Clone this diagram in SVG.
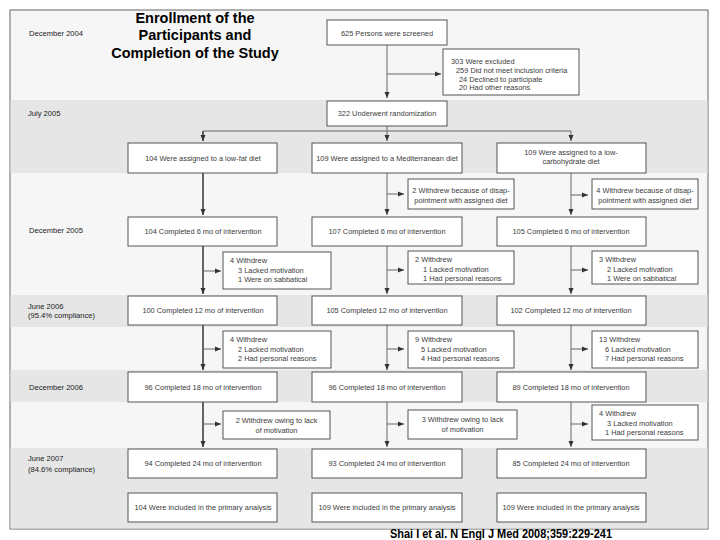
<svg xmlns="http://www.w3.org/2000/svg" width="720" height="540" viewBox="0 0 720 540">
<defs>
<marker id="ah" viewBox="0 0 6 6" refX="6" refY="3" markerWidth="6" markerHeight="6" markerUnits="userSpaceOnUse" orient="auto">
<path d="M0,0.5 L6,3 L0,5.5 Z" fill="#333"/>
</marker>
<style>
.bx{fill:#ffffff;stroke:#555;stroke-width:1}
.t{font-family:"Liberation Sans",Arial,sans-serif;font-size:7.4px;fill:#3a3a3a}
.c{text-anchor:middle}
.lb{font-family:"Liberation Sans",Arial,sans-serif;font-size:7.6px;fill:#1a1a1a}
.ln{fill:none;stroke:#666;stroke-width:1}
.ln1{fill:none;stroke:#555;stroke-width:1.8}
.ar{marker-end:url(#ah)}
.title{font-family:"Liberation Sans",Arial,sans-serif;font-size:14.5px;font-weight:bold;fill:#000;text-anchor:middle}
</style>
</defs>
<rect x="0" y="0" width="720" height="540" fill="#ffffff"/>
<g id="background">
<rect x="10" y="10" width="698" height="519" fill="#f6f6f6" stroke="#666" stroke-width="1"/>
<rect x="10.5" y="100" width="697" height="73" fill="#e6e6e6"/>
<rect x="10.5" y="295" width="697" height="32" fill="#e6e6e6"/>
<rect x="10.5" y="370" width="697" height="32" fill="#e6e6e6"/>
<rect x="10.5" y="448" width="697" height="80.5" fill="#e6e6e6"/>
</g>
<g id="title">
<text class="title" x="195" y="23">Enrollment of the</text>
<text class="title" x="195" y="40">Participants and</text>
<text class="title" x="195" y="58">Completion of the Study</text>
</g>
<g id="timeline-labels">
<text class="lb" x="29" y="35.5">December 2004</text>
<text class="lb" x="28" y="116">July 2005</text>
<text class="lb" x="29" y="233">December 2005</text>
<text class="lb" x="28" y="309">June 2006</text>
<text class="lb" x="28" y="318">(95.4% compliance)</text>
<text class="lb" x="29" y="390">December 2006</text>
<text class="lb" x="28" y="461">June 2007</text>
<text class="lb" x="28" y="472">(84.6% compliance)</text>
</g>
<g id="connectors">
<line class="ln ar" x1="387" y1="45" x2="387" y2="98"/>
<line class="ln ar" x1="387" y1="74" x2="441" y2="74"/>
<polyline class="ln" points="387,126 387,131"/>
<line class="ln" x1="203" y1="131" x2="571" y2="131"/>
<line class="ln1 ar" x1="203" y1="131" x2="203" y2="141"/>
<line class="ln ar" x1="387" y1="131" x2="387" y2="141"/>
<line class="ln ar" x1="571" y1="131" x2="571" y2="141"/>
<line class="ln1 ar" x1="203" y1="173" x2="203" y2="215"/>
<line class="ln1 ar" x1="203" y1="246" x2="203" y2="294"/>
<line class="ln1 ar" x1="203" y1="325" x2="203" y2="370"/>
<line class="ln1 ar" x1="203" y1="402" x2="203" y2="447"/>
<line class="ln ar" x1="203" y1="271" x2="221" y2="271"/>
<line class="ln ar" x1="203" y1="349" x2="221" y2="349"/>
<line class="ln ar" x1="203" y1="424" x2="221" y2="424"/>
<line class="ln ar" x1="387" y1="173" x2="387" y2="215"/>
<line class="ln ar" x1="387" y1="246" x2="387" y2="294"/>
<line class="ln ar" x1="387" y1="325" x2="387" y2="370"/>
<line class="ln ar" x1="387" y1="402" x2="387" y2="447"/>
<line class="ln ar" x1="387" y1="194" x2="404" y2="194"/>
<line class="ln ar" x1="387" y1="270" x2="404" y2="270"/>
<line class="ln ar" x1="387" y1="349" x2="404" y2="349"/>
<line class="ln ar" x1="387" y1="424" x2="404" y2="424"/>
<line class="ln ar" x1="571" y1="173" x2="571" y2="215"/>
<line class="ln ar" x1="571" y1="246" x2="571" y2="294"/>
<line class="ln ar" x1="571" y1="325" x2="571" y2="370"/>
<line class="ln ar" x1="571" y1="402" x2="571" y2="447"/>
<line class="ln ar" x1="571" y1="195" x2="588" y2="195"/>
<line class="ln ar" x1="571" y1="270" x2="588" y2="270"/>
<line class="ln ar" x1="571" y1="349" x2="588" y2="349"/>
<line class="ln ar" x1="571" y1="424" x2="588" y2="424"/>
</g>
<g id="screened"><rect class="bx" x="327" y="20" width="120" height="25"/><text class="t c" x="387" y="35.5">625 Persons were screened</text></g>
<g id="excluded"><rect class="bx" x="443" y="49" width="136" height="46"/>
<text class="t" x="451" y="63.5">303 Were excluded</text>
<text class="t" x="456" y="72.5">259 Did not meet inclusion criteria</text>
<text class="t" x="459" y="81.5">24 Declined to participate</text>
<text class="t" x="459" y="90">20 Had other reasons</text></g>
<g id="randomized"><rect class="bx" x="327" y="101" width="120" height="25"/><text class="t c" x="387" y="116">322 Underwent randomization</text></g>

<g id="lowfat-assigned"><rect class="bx" x="128" y="143" width="149" height="30"/><text class="t c" x="203" y="160.5">104 Were assigned to a low-fat diet</text></g>
<g id="med-assigned"><rect class="bx" x="312" y="143" width="150" height="30"/><text class="t c" x="387" y="160.5">109 Were assigned to a Mediterranean diet</text></g>
<g id="lowcarb-assigned"><rect class="bx" x="497" y="143" width="149" height="30"/><text class="t c" x="571" y="155">109 Were assigned to a low-</text><text class="t c" x="571" y="163.5">carbohydrate diet</text></g>

<g id="med-w1"><rect class="bx" x="408" y="179" width="106" height="30"/><text class="t c" x="461" y="192.5">2 Withdrew because of disap-</text><text class="t c" x="461" y="202.5">pointment with assigned diet</text></g>
<g id="lowcarb-w1"><rect class="bx" x="592" y="179" width="106" height="30"/><text class="t c" x="645" y="192.5">4 Withdrew because of disap-</text><text class="t c" x="645" y="202.5">pointment with assigned diet</text></g>

<g id="lowfat-6"><rect class="bx" x="128" y="217" width="149" height="29"/><text class="t c" x="203" y="234">104 Completed 6 mo of intervention</text></g>
<g id="med-6"><rect class="bx" x="312" y="217" width="150" height="29"/><text class="t c" x="387" y="234">107 Completed 6 mo of intervention</text></g>
<g id="lowcarb-6"><rect class="bx" x="497" y="217" width="149" height="29"/><text class="t c" x="571" y="234">105 Completed 6 mo of intervention</text></g>

<g id="lowfat-w2"><rect class="bx" x="223" y="252" width="108" height="37"/><text class="t" x="230" y="262.5">4 Withdrew</text><text class="t" x="238" y="272.5">3 Lacked motivation</text><text class="t" x="238" y="281.5">1 Were on sabbatical</text></g>
<g id="med-w2"><rect class="bx" x="408" y="251" width="106" height="33"/><text class="t" x="415" y="261.5">2 Withdrew</text><text class="t" x="423" y="271.5">1 Lacked motivation</text><text class="t" x="423" y="280.5">1 Had personal reasons</text></g>
<g id="lowcarb-w2"><rect class="bx" x="592" y="251" width="106" height="33"/><text class="t" x="599" y="261.5">3 Withdrew</text><text class="t" x="607" y="271.5">2 Lacked motivation</text><text class="t" x="607" y="280.5">1 Were on sabbatical</text></g>

<g id="lowfat-12"><rect class="bx" x="128" y="296" width="149" height="29"/><text class="t c" x="203" y="313">100 Completed 12 mo of intervention</text></g>
<g id="med-12"><rect class="bx" x="312" y="296" width="150" height="29"/><text class="t c" x="387" y="313">105 Completed 12 mo of intervention</text></g>
<g id="lowcarb-12"><rect class="bx" x="497" y="296" width="149" height="29"/><text class="t c" x="571" y="313">102 Completed 12 mo of intervention</text></g>

<g id="lowfat-w3"><rect class="bx" x="223" y="331" width="108" height="37"/><text class="t" x="230" y="342">4 Withdrew</text><text class="t" x="238" y="351.5">2 Lacked motivation</text><text class="t" x="238" y="360.5">2 Had personal reasons</text></g>
<g id="med-w3"><rect class="bx" x="408" y="331" width="106" height="37"/><text class="t" x="415" y="342">9 Withdrew</text><text class="t" x="421" y="351.5">5 Lacked motivation</text><text class="t" x="421" y="360.5">4 Had personal reasons</text></g>
<g id="lowcarb-w3"><rect class="bx" x="592" y="331" width="106" height="37"/><text class="t" x="599" y="342">13 Withdrew</text><text class="t" x="605" y="351.5">6 Lacked motivation</text><text class="t" x="605" y="360.5">7 Had personal reasons</text></g>

<g id="lowfat-18"><rect class="bx" x="128" y="372" width="149" height="30"/><text class="t c" x="203" y="389.5">96 Completed 18 mo of intervention</text></g>
<g id="med-18"><rect class="bx" x="312" y="372" width="150" height="30"/><text class="t c" x="387" y="389.5">96 Completed 18 mo of intervention</text></g>
<g id="lowcarb-18"><rect class="bx" x="497" y="372" width="149" height="30"/><text class="t c" x="571" y="389.5">89 Completed 18 mo of intervention</text></g>

<g id="lowfat-w4"><rect class="bx" x="223" y="411" width="107" height="28"/><text class="t c" x="276.5" y="422.5">2 Withdrew owing to lack</text><text class="t c" x="276.5" y="432.5">of motivation</text></g>
<g id="med-w4"><rect class="bx" x="408" y="410" width="109" height="29"/><text class="t c" x="462.5" y="422">3 Withdrew owing to lack</text><text class="t c" x="462.5" y="432">of motivation</text></g>
<g id="lowcarb-w4"><rect class="bx" x="592" y="405" width="106" height="35"/><text class="t" x="599" y="416">4 Withdrew</text><text class="t" x="607" y="425.5">3 Lacked motivation</text><text class="t" x="605" y="434.5">1 Had personal reasons</text></g>

<g id="lowfat-24"><rect class="bx" x="128" y="449" width="149" height="29"/><text class="t c" x="203" y="466">94 Completed 24 mo of intervention</text></g>
<g id="med-24"><rect class="bx" x="312" y="449" width="150" height="29"/><text class="t c" x="387" y="466">93 Completed 24 mo of intervention</text></g>
<g id="lowcarb-24"><rect class="bx" x="497" y="449" width="149" height="29"/><text class="t c" x="571" y="466">85 Completed 24 mo of intervention</text></g>

<g id="lowfat-analysis"><rect class="bx" x="128" y="493" width="149" height="29"/><text class="t c" x="203" y="510">104 Were included in the primary analysis</text></g>
<g id="med-analysis"><rect class="bx" x="312" y="493" width="150" height="29"/><text class="t c" x="387" y="510">109 Were included in the primary analysis</text></g>
<g id="lowcarb-analysis"><rect class="bx" x="497" y="493" width="149" height="29"/><text class="t c" x="571" y="510">109 Were included in the primary analysis</text></g>

<g id="citation"><text x="501" y="538" font-family="'Liberation Sans',Arial,sans-serif" font-size="12px" font-weight="bold" fill="#000" text-anchor="middle" textLength="222" lengthAdjust="spacingAndGlyphs">Shai I et al. N Engl J Med 2008;359:229-241</text></g>
</svg>
